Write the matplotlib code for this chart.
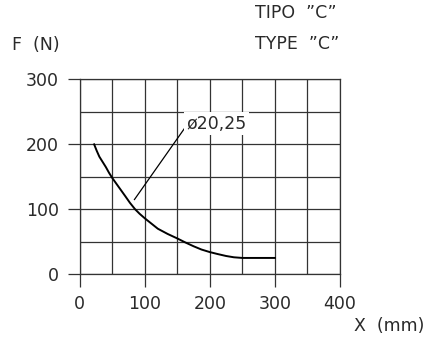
import matplotlib.pyplot as plt
from matplotlib.ticker import MultipleLocator

# curve
x_mm = [22, 26, 30, 35, 40, 45, 50, 55, 60, 65, 70, 77, 85, 92, 100, 110, 120, 135,
        150, 162, 175, 187, 200, 212, 225, 237, 250, 300]
f_n = [200, 190, 181, 173, 165, 156, 148, 141, 134, 127, 120, 110, 100, 93, 86, 78, 70, 62,
       55, 49, 43, 38, 34, 31, 28, 26, 25, 25]

x_ticks = [0, 100, 200, 300, 400]
y_ticks = [0, 100, 200, 300]
leader_x = [84, 162]
leader_y = [115, 226]

plt.rcParams["font.family"] = "DejaVu Sans"
grid_col = "#333333"
txt_col = "#2a2a2a"

fig = plt.figure(figsize=(4.34, 3.41), dpi=100)
ax = fig.add_axes([0.184, 0.196, 0.599, 0.571])
ax.set_xlim(0, 400)
ax.set_ylim(0, 300)

ax.set_xticks(x_ticks)
ax.set_yticks(y_ticks)
ax.xaxis.set_minor_locator(MultipleLocator(50))
ax.yaxis.set_minor_locator(MultipleLocator(50))
ax.grid(True, which="both", color=grid_col, linewidth=0.9)
ax.tick_params(which="major", length=9, width=0.9, color=grid_col,
               labelsize=12.5, labelcolor=txt_col, pad=6)
ax.tick_params(which="minor", length=0)
for s in ax.spines.values():
    s.set_color(grid_col)
    s.set_linewidth(0.9)

ax.plot(x_mm, f_n, color="black", linewidth=1.4, zorder=3)
ax.plot(leader_x, leader_y, color="black", linewidth=0.9, zorder=3)
ax.text(164, 232, "ø20,25", fontsize=12.5, color=txt_col, va="center", ha="left",
        zorder=4, bbox=dict(facecolor="white", edgecolor="none", pad=2))

fig.text(0.028, 0.868, "F  (N)", fontsize=12.5, color=txt_col, va="center")
fig.text(0.588, 0.962, "TIPO  ”C”", fontsize=12.5, color=txt_col, va="center")
fig.text(0.588, 0.872, "TYPE  ”C”", fontsize=12.5, color=txt_col, va="center")
fig.text(0.815, 0.045, "X  (mm)", fontsize=12.5, color=txt_col, va="center")

fig.savefig("out.png", dpi=100)
